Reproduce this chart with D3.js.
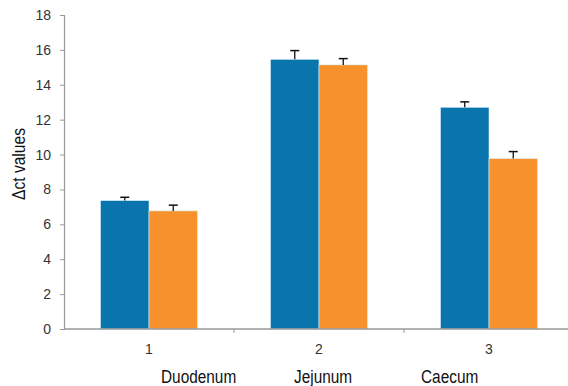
<!DOCTYPE html>
<html><head><meta charset="utf-8">
<script src="https://cdn.jsdelivr.net/npm/d3@7"></script>
<style>body{margin:0;background:#fff}svg{display:block}</style>
</head><body>
<script>
const categories = ["1", "2", "3"];
const regionNames = ["Duodenum", "Jejunum", "Caecum"];
const seriesA = [7.36, 15.46, 12.71];
const seriesAErr = [0.19, 0.5, 0.31];
const seriesB = [6.77, 15.14, 9.77];
const seriesBErr = [0.33, 0.36, 0.4];
const yTicks = [0, 2, 4, 6, 8, 10, 12, 14, 16, 18];

const W = 568, H = 386;
const font = "'Liberation Sans Narrow', 'Liberation Sans', Arial, sans-serif";
const svg = d3.select("body").append("svg").attr("width", W).attr("height", H);

const x = d3.scaleBand().domain(categories).range([64, 574]).paddingInner(0).paddingOuter(0);
const y = d3.scaleLinear().domain([0, 18]).range([329, 15]);
const barW = 48.5;
const colors = ["#0a74ad", "#f7912b"];

const series = [
  {vals: seriesA, err: seriesAErr, off: -barW},
  {vals: seriesB, err: seriesBErr, off: 0}
];

series.forEach((s, si) => {
  const g = svg.append("g");
  g.selectAll("rect").data(categories).join("rect")
    .attr("x", d => x(d) + x.bandwidth() / 2 + s.off)
    .attr("y", (d, i) => y(s.vals[i]))
    .attr("width", barW)
    .attr("height", (d, i) => y(0) - y(s.vals[i]))
    .attr("fill", colors[si])
    .attr("stroke", "#d8eef8").attr("stroke-width", 0.6);
  g.selectAll("line.e").data(categories).join("line")
    .attr("x1", d => x(d) + x.bandwidth() / 2 + s.off + barW / 2)
    .attr("x2", d => x(d) + x.bandwidth() / 2 + s.off + barW / 2)
    .attr("y1", (d, i) => y(s.vals[i]))
    .attr("y2", (d, i) => y(s.vals[i] + s.err[i]))
    .attr("stroke", "#111").attr("stroke-width", 1.3);
  g.selectAll("line.c").data(categories).join("line")
    .attr("x1", d => x(d) + x.bandwidth() / 2 + s.off + barW / 2 - 4.5)
    .attr("x2", d => x(d) + x.bandwidth() / 2 + s.off + barW / 2 + 4.5)
    .attr("y1", (d, i) => y(s.vals[i] + s.err[i]))
    .attr("y2", (d, i) => y(s.vals[i] + s.err[i]))
    .attr("stroke", "#111").attr("stroke-width", 1.5);
});

// Y axis
const yAxis = svg.append("g").attr("transform", "translate(64,0)")
  .call(d3.axisLeft(y).tickValues(yTicks).tickSize(4).tickPadding(9));
yAxis.select(".domain").attr("stroke", "#999").attr("stroke-width", 1.2);
yAxis.selectAll(".tick line").attr("stroke", "#999");
yAxis.selectAll(".tick text").attr("fill", "#333").style("font-family", font).style("font-size", "14px");

// X axis
const xAxis = svg.append("g").attr("transform", "translate(0,329)");
xAxis.append("line").attr("x1", 64).attr("x2", W).attr("y1", 0).attr("y2", 0)
  .attr("stroke", "#999").attr("stroke-width", 1.5);
xAxis.selectAll("line.t").data(categories.slice(1)).join("line")
  .attr("x1", d => x(d)).attr("x2", d => x(d)).attr("y1", 0).attr("y2", 4)
  .attr("stroke", "#999");
xAxis.selectAll("text.n").data(categories).join("text")
  .attr("x", d => x(d) + x.bandwidth() / 2).attr("y", 25)
  .attr("text-anchor", "middle").attr("fill", "#333")
  .style("font-family", font).style("font-size", "14px").text(d => d);

const nameX = [161, 294, 421];
svg.selectAll("text.r").data(regionNames).join("text")
  .attr("transform", (d, i) => `translate(${nameX[i]},383) scale(0.81,1)`)
  .attr("fill", "#111").style("font-family", font).style("font-size", "19px").text(d => d);

svg.append("text").attr("transform", "translate(25,164) rotate(-90) scale(0.82,1)")
  .attr("text-anchor", "middle").attr("fill", "#111")
  .style("font-family", font).style("font-size", "19px").text("Δct values");
</script>
</body></html>
